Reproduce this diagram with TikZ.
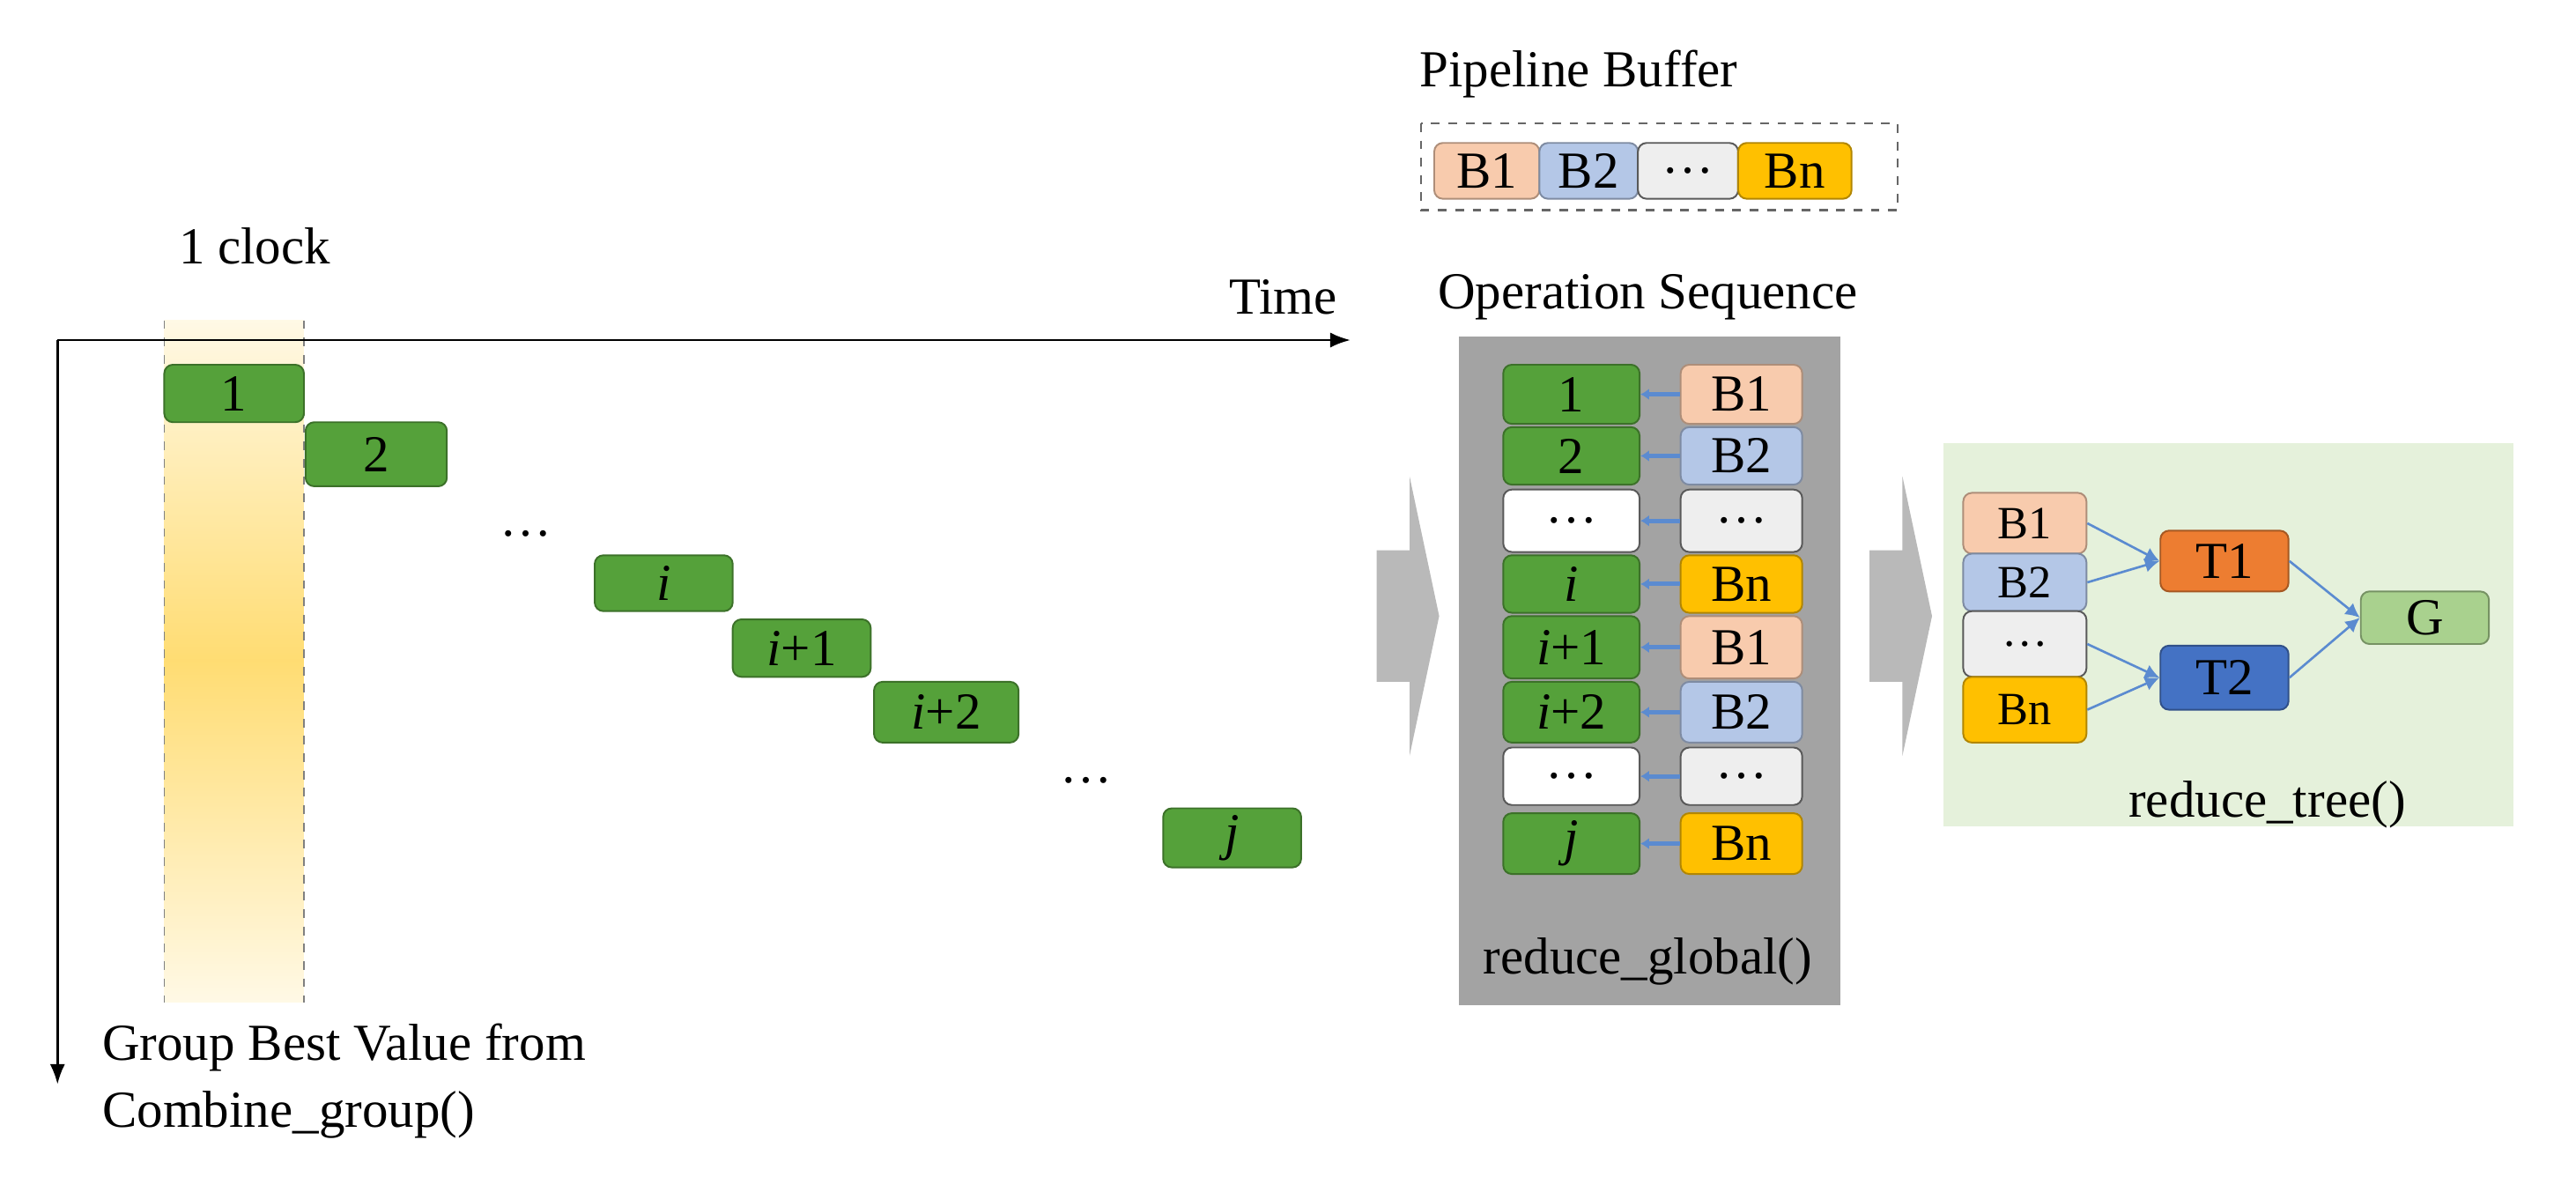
\documentclass[tikz,border=0pt]{standalone}
\usepackage{fontspec}
\setmainfont{Liberation Serif}
\usetikzlibrary{arrows.meta}
\definecolor{gr}{HTML}{55A13A}
\definecolor{lor}{HTML}{F8CBAD}
\definecolor{lbl}{HTML}{B4C7E7}
\definecolor{lgy}{HTML}{EEEEEE}
\definecolor{yel}{HTML}{FFC000}
\definecolor{org}{HTML}{ED7D31}
\definecolor{blu}{HTML}{4472C4}
\definecolor{lgr}{HTML}{A9D18E}
\definecolor{pan}{HTML}{E5F1DB}
\definecolor{gpan}{HTML}{A3A3A3}
\definecolor{arr}{HTML}{5B8BD0}
\newcommand\bx[7]{\node[#6,minimum width={(#4-#2)*0.02cm},minimum height={(#5-#3)*0.02cm}] (#1) at ({(#2+#4)/2},{(#3+#5)/2}) {#7};}
\begin{document}
\begin{tikzpicture}[x=0.02cm,y=-0.02cm,font=\fontsize{18}{21}\selectfont,
  box/.style={draw=#1!70!black,rounded corners=3pt,inner sep=0pt,line width=0.6pt},
  seq/.style={box=gr,fill=gr},
  wht/.style={box=gray,fill=white},
  b1/.style={box=lor,fill=lor},
  b2/.style={box=lbl,fill=lbl},
  bd/.style={box=gray,fill=lgy},
  bn/.style={box=yel,fill=yel},
  sm/.style={font=\fontsize{16}{18}\selectfont},
  ln/.style={arr,line width=0.8pt,-{Latex[length=5pt,width=5pt]}}]
\useasboundingbox (0,0) rectangle (1568,716);
% timeline
\shade[top color=yel!10,bottom color=yel!55] (100,195) rectangle (185,402);
\shade[top color=yel!55,bottom color=yel!10] (100,402) rectangle (185,610);
\draw[dashed,gray] (100,195) -- (100,610) (185,195) -- (185,610);
\coordinate (o) at (35,207); \coordinate (tx) at (822,207); \coordinate (ty) at (35,660);
\draw[-{Latex[length=7pt]},line width=0.8pt] (o) -- (tx);
\draw[-{Latex[length=7pt]},line width=0.8pt] (o) -- (ty);
\node (clk) at (155,150) {1 clock};
\node (time) at (781,181) {Time};
\node[align=left,anchor=north west,inner sep=0pt] (gbv) at (62,623) {Group Best Value from\\[2pt]Combine\_group()};
\bx{t1}{100}{222}{185}{257}{seq}{1}
\bx{t2}{186}{257}{272}{296}{seq}{2}
\node (td1) at (320,325) {\dots};
\bx{ti}{362}{338}{446}{372}{seq}{\textit{i}}
\bx{ti1}{446}{377}{530}{412}{seq}{\textit{i}+1}
\bx{ti2}{532}{415}{620}{452}{seq}{\textit{i}+2}
\node (td2) at (661,475) {\dots};
\bx{tj}{708}{492}{792}{528}{seq}{\textit{j}}
% pipeline buffer
\node[anchor=west] (pbt) at (858,45) {Pipeline Buffer};
\draw[dashed,gray!80!black,line width=0.8pt] (865,75) rectangle (1155,128);
\bx{p1}{873}{87}{937}{121}{b1}{B1}
\bx{p2}{937}{87}{997}{121}{b2}{B2}
\bx{p3}{997}{87}{1058}{121}{bd}{\dots}
\bx{p4}{1058}{87}{1127}{121}{bn}{Bn}
% operation sequence
\node (ost) at (1003,181) {Operation Sequence};
\fill[gpan] (888,205) rectangle (1120,612);
\node (rg) at (1003,585) {reduce\_global()};
\bx{s1}{915}{222}{998}{258}{seq}{1}
\bx{s2}{915}{260}{998}{295}{seq}{2}
\bx{s3}{915}{298}{998}{336}{wht}{\dots}
\bx{s4}{915}{338}{998}{373}{seq}{\textit{i}}
\bx{s5}{915}{375}{998}{413}{seq}{\textit{i}+1}
\bx{s6}{915}{415}{998}{452}{seq}{\textit{i}+2}
\bx{s7}{915}{455}{998}{490}{wht}{\dots}
\bx{s8}{915}{495}{998}{532}{seq}{\textit{j}}
\bx{r1}{1023}{222}{1097}{258}{b1}{B1}
\bx{r2}{1023}{260}{1097}{295}{b2}{B2}
\bx{r3}{1023}{298}{1097}{336}{bd}{\dots}
\bx{r4}{1023}{338}{1097}{373}{bn}{Bn}
\bx{r5}{1023}{375}{1097}{413}{b1}{B1}
\bx{r6}{1023}{415}{1097}{452}{b2}{B2}
\bx{r7}{1023}{455}{1097}{490}{bd}{\dots}
\bx{r8}{1023}{495}{1097}{532}{bn}{Bn}
\foreach \k in {1,...,8}{\draw[arr,line width=1.5pt,-{Latex[length=3pt,width=4pt]}] (r\k.west) -- (s\k.east);}
% block arrows
\fill[gray!55] (838,335) -- (858,335) -- (858,290) -- (876,375) -- (858,460) -- (858,415) -- (838,415) -- cycle;
\fill[gray!55] (1138,335) -- (1158,335) -- (1158,290) -- (1176,375) -- (1158,460) -- (1158,415) -- (1138,415) -- cycle;
% reduce tree
\fill[pan] (1183,270) rectangle (1530,503);
\node (rt) at (1380,490) {reduce\_tree()};
\bx{q1}{1195}{300}{1270}{337}{b1,sm}{B1}
\bx{q2}{1195}{337}{1270}{372}{b2,sm}{B2}
\bx{q3}{1195}{372}{1270}{412}{bd,sm}{\dots}
\bx{q4}{1195}{412}{1270}{452}{bn,sm}{Bn}
\bx{T1}{1315}{323}{1393}{360}{box=org,fill=org}{T1}
\bx{T2}{1315}{393}{1393}{432}{box=blu,fill=blu}{T2}
\bx{G}{1437}{360}{1515}{392}{box=lgr,fill=lgr}{G}
\draw[ln] (q1.east) -- (T1.west);
\draw[ln] (q2.east) -- (T1.west);
\draw[ln] (q3.east) -- (T2.west);
\draw[ln] (q4.east) -- (T2.west);
\draw[ln] (T1.east) -- (G.west);
\draw[ln] (T2.east) -- (G.west);
\end{tikzpicture}
\end{document}
